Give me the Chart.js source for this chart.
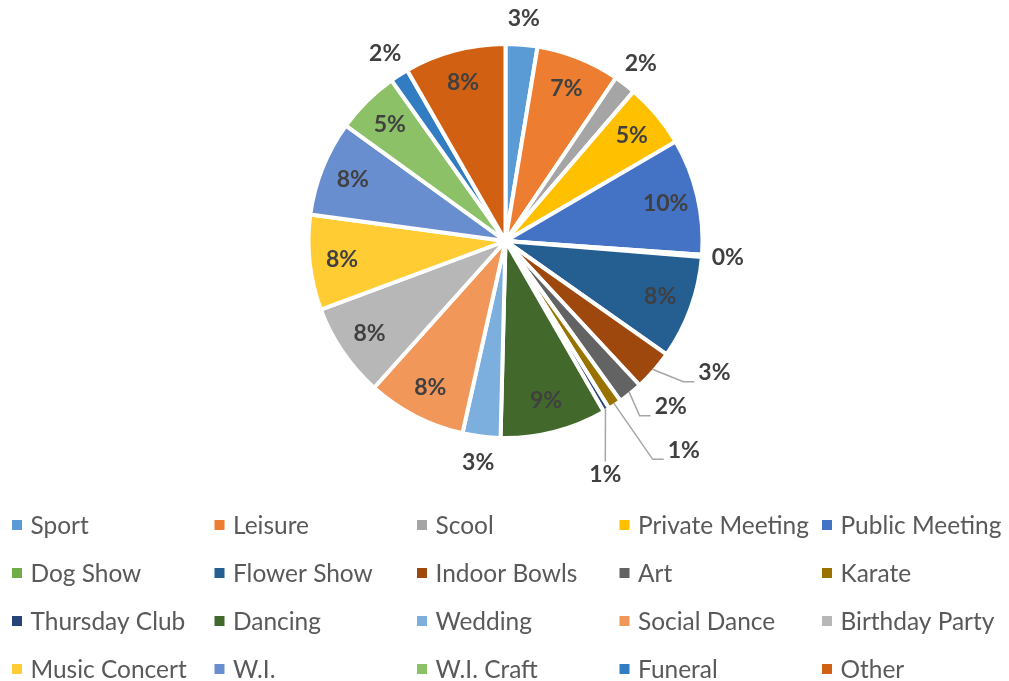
<!DOCTYPE html>
<html><head><meta charset="utf-8">
<script src="https://cdn.jsdelivr.net/npm/chart.js@4/dist/chart.umd.min.js"></script>
<style>html,body{margin:0;padding:0;background:#fff;}</style>
</head><body>
<canvas id="c" width="1009" height="681"></canvas>
<script>
const categories = ['Sport','Leisure','Scool','Private Meeting','Public Meeting','Dog Show','Flower Show','Indoor Bowls','Art','Karate','Thursday Club','Dancing','Wedding','Social Dance','Birthday Party','Music Concert','W.I.','W.I. Craft','Funeral','Other'];
const values = [2.6, 6.85, 1.8, 5.3, 9.5, 0.2, 8.45, 3.3, 2.0, 1.1, 0.5, 8.7, 3.1, 8.1, 7.7, 7.8, 7.8, 5.2, 1.5, 8.3];
const colors = ['#5B9BD5','#ED7D31','#A5A5A5','#FFC000','#4472C4','#70AD47','#255E91','#9E480E','#636363','#997300','#264478','#43682B','#7CAFDD','#F1975A','#B7B7B7','#FFCD33','#698ED0','#8CC168','#327DC2','#D26012'];
// label placement style: in = inside slice, out = just outside, leader = with leader line
const labelPlacement = ['out','in','out','in','in','out','in','leader','leader','leader','leader','in','out','in','in','in','in','in','out','in'];
const leaderStyle = {7:{dAngle:-8.9, r:247, attach:'side'}, 8:{dAngle:-5.6, r:234, attach:'side'}, 9:{dAngle:-6.7, r:275, attach:'side'}, 10:{dAngle:7.7, r:254, attach:'top'}};

const total = values.reduce((a,b)=>a+b,0);

const labelPlugin = {
  id: 'pieLabels',
  afterDatasetsDraw(chart) {
    const ctx = chart.ctx;
    const meta = chart.getDatasetMeta(0);
    ctx.save();
    ctx.font = 'bold 23px Lato';
    ctx.fillStyle = '#404040';
    ctx.textAlign = 'center';
    ctx.textBaseline = 'middle';
    meta.data.forEach((arc, i) => {
      const p = arc.getProps(['x','y','startAngle','endAngle','outerRadius'], true);
      const mid = (p.startAngle + p.endAngle) / 2;
      const txt = Math.round(values[i] / total * 100) + '%';
      const mode = labelPlacement[i];
      let lx, ly;
      if (mode === 'in') {
        const r = p.outerRadius * 0.835;
        lx = p.x + r * Math.cos(mid); ly = p.y + r * Math.sin(mid);
      } else if (mode === 'out') {
        const r = p.outerRadius + 26;
        lx = p.x + r * Math.cos(mid); ly = p.y + r * Math.sin(mid);
      } else {
        const st = leaderStyle[i];
        const a = mid + st.dAngle * Math.PI / 180;
        lx = p.x + st.r * Math.cos(a); ly = p.y + st.r * Math.sin(a);
        const sx = p.x + (p.outerRadius - 2) * Math.cos(mid);
        const sy = p.y + (p.outerRadius - 2) * Math.sin(mid);
        const w = ctx.measureText(txt).width;
        ctx.save();
        ctx.strokeStyle = '#A6A6A6';
        ctx.lineWidth = 1.5;
        ctx.beginPath();
        ctx.moveTo(sx, sy);
        if (st.attach === 'side') {
          const left = lx - w / 2;
          ctx.lineTo(left - 15, ly + 9);
          ctx.lineTo(left - 4, ly + 9);
        } else {
          ctx.lineTo(lx, ly - 13);
        }
        ctx.stroke();
        ctx.restore();
      }
      ctx.fillText(txt, lx, ly);
    });
    ctx.restore();
  }
};

const legendPlugin = {
  id: 'gridLegend',
  afterDraw(chart) {
    const ctx = chart.ctx;
    ctx.save();
    ctx.font = '24px Lato';
    const m = ctx.measureText('Private Meeting').width;
    const size = 24 * 171 / m;
    ctx.font = size.toFixed(2) + 'px Lato';
    ctx.textBaseline = 'middle';
    ctx.textAlign = 'left';
    chart.data.labels.forEach((lab, i) => {
      const col = i % 5, row = Math.floor(i / 5);
      const x0 = 12 + col * 202.5;
      const y = 525 + row * 48;
      ctx.fillStyle = chart.data.datasets[0].backgroundColor[i];
      ctx.fillRect(x0, y - 5, 10, 10);
      ctx.fillStyle = '#595959';
      ctx.fillText(lab, x0 + 18.5, y + 1);
    });
    ctx.restore();
  }
};

new Chart(document.getElementById('c'), {
  type: 'pie',
  data: {
    labels: categories,
    datasets: [{
      data: values,
      backgroundColor: colors,
      borderColor: '#FFFFFF',
      borderWidth: 4
    }]
  },
  options: {
    responsive: false,
    animation: false,
    devicePixelRatio: 1,
    radius: 197,
    layout: { padding: { top: 43, bottom: 242, left: 2, right: 0 } },
    plugins: { legend: { display: false }, tooltip: { enabled: false } }
  },
  plugins: [labelPlugin, legendPlugin]
});
</script>
</body></html>
